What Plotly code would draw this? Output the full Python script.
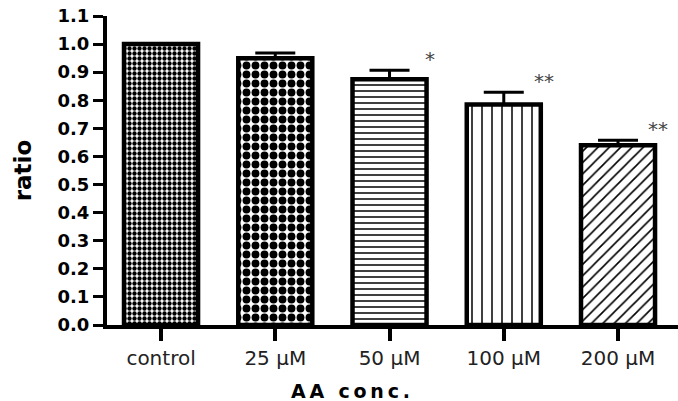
import plotly.graph_objects as go

# ---- data ----
categories = ["control", "25 \u03bcM", "50 \u03bcM", "100 \u03bcM", "200 \u03bcM"]
means = [1.00, 0.95, 0.875, 0.785, 0.64]
sem = [0.0, 0.018, 0.032, 0.044, 0.018]
stars = ["", "", "*", "**", "**"]
y_ticks = [0.0, 0.1, 0.2, 0.3, 0.4, 0.5, 0.6, 0.7, 0.8, 0.9, 1.0, 1.1]

# ---- styles ----
patterns = [
    dict(shape=".", size=5, solidity=0.6),
    dict(shape=".", size=9, solidity=0.6),
    dict(shape="-", size=6, solidity=0.25),
    dict(shape="|", size=10, solidity=0.15),
    dict(shape="/", size=8, solidity=0.2),
]

fig = go.Figure()
for i, cat in enumerate(categories):
    p = patterns[i]
    fig.add_trace(go.Bar(
        x=[cat], y=[means[i]], width=0.648,
        marker=dict(
            color="white",
            line=dict(color="black", width=4.5),
            pattern=dict(shape=p["shape"], size=p["size"], solidity=p["solidity"],
                         fgcolor="black", bgcolor="white", fillmode="replace"),
        ),
        error_y=dict(type="data", symmetric=False, array=[sem[i]], arrayminus=[0],
                     color="black", thickness=3, width=20, visible=sem[i] > 0),
        showlegend=False,
    ))

for i, s in enumerate(stars):
    if s:
        fig.add_annotation(x=i + 0.35, y=means[i] + sem[i] + 0.048, text=s,
                           showarrow=False, xanchor="center", yanchor="middle",
                           yshift=-2,
                           font=dict(family="DejaVu Sans", size=20, color="#444"))

fig.add_annotation(xref="paper", yref="paper", x=0.4256, y=-0.215,
                   text="A\u2009A\u2009\u2009 c\u2009o\u2009n\u2009c\u2009.",
                   showarrow=False, xanchor="center", yanchor="middle",
                   font=dict(family="DejaVu Sans", size=19, color="black", weight="bold"))

fig.update_layout(
    width=678, height=401,
    margin=dict(l=107, r=0, t=16, b=76),
    paper_bgcolor="white", plot_bgcolor="white",
    bargap=0.3,
)
fig.update_xaxes(
    range=[-0.473, 4.525], showline=True, linecolor="black", linewidth=4,
    ticks="outside", ticklen=12, tickwidth=4, tickcolor="black",
    tickfont=dict(family="DejaVu Sans", size=20, color="#222"),
    showgrid=False, zeroline=False,
)
fig.update_yaxes(
    range=[0, 1.1], tickvals=y_ticks, tickformat=".1f",
    showline=True, linecolor="black", linewidth=4,
    ticks="outside", ticklen=10, tickwidth=3, tickcolor="black",
    tickfont=dict(family="DejaVu Sans", size=18, color="black", weight="bold"),
    title=dict(text="ratio", standoff=20,
               font=dict(family="DejaVu Sans", size=23, color="black", weight="bold")),
    showgrid=False, zeroline=False,
)

fig.write_html("out.html")
